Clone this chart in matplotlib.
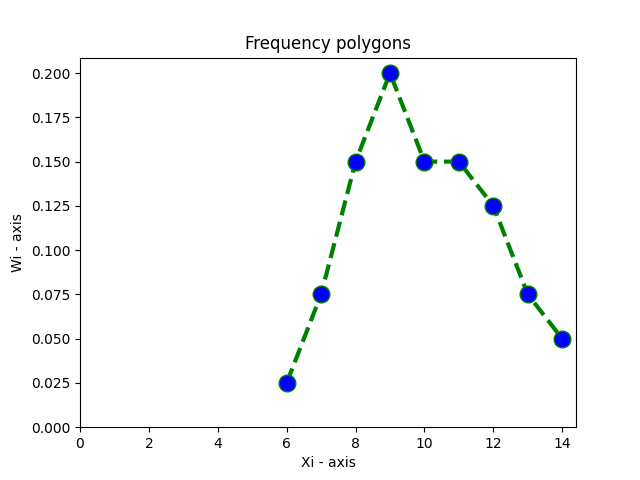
import matplotlib
matplotlib.use("Agg")
import matplotlib.pyplot as plt

xi = [6, 7, 8, 9, 10, 11, 12, 13, 14]
wi = [0.025, 0.075, 0.15, 0.2, 0.15, 0.15, 0.125, 0.075, 0.05]

fig, ax = plt.subplots(figsize=(6.4, 4.8), dpi=100)
ax.plot(xi, wi, color='green', linestyle='dashed', linewidth=3,
        marker='o', markerfacecolor='blue', markersize=12)
ax.set_xlim(left=0)
ax.set_ylim(bottom=0)
ax.set_xlabel('Xi - axis')
ax.set_ylabel('Wi - axis')
ax.set_title('Frequency polygons')
fig.savefig('out.png')
